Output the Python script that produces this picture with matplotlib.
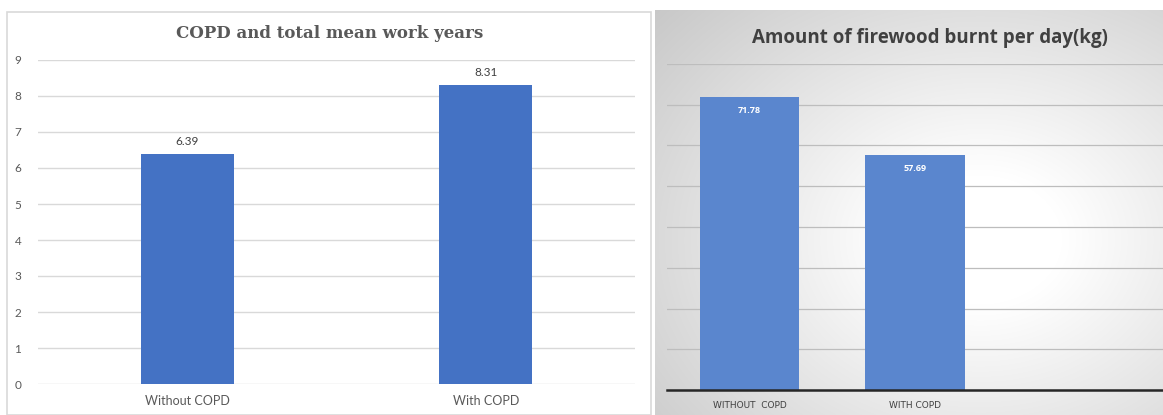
import matplotlib
matplotlib.use('Agg')
import matplotlib.pyplot as plt
import numpy as np
from matplotlib.patches import Rectangle

# Dados
cats_left = ['Without COPD', 'With COPD']
work_years = [6.39, 8.31]

cats_right = ['WITHOUT  COPD', 'WITH COPD', '']
firewood_kg = [71.78, 57.69, 0]

W, H = 1163, 415
fig = plt.figure(figsize=(W / 100, H / 100), dpi=100)
fig.patch.set_facecolor('white')

def fx(px):
    return px / W

def fy(py):
    return 1 - py / H

# ---------- painel esquerdo ----------
fig.patches.append(Rectangle((fx(7), 0), fx(651) - fx(7), fy(12), transform=fig.transFigure,
                             facecolor='white', edgecolor='#d9d9d9', linewidth=1.2, zorder=-5))

axl = fig.add_axes([fx(38), fy(384), fx(635) - fx(38), fy(60) - fy(384)])
axl.bar(range(len(cats_left)), work_years, width=0.31, color='#4472C4', zorder=3)
axl.set_xlim(-0.5, 1.5)
axl.set_ylim(0, 9)
axl.set_yticks(range(0, 10))
axl.set_xticks(range(len(cats_left)))
axl.set_xticklabels(cats_left)
axl.yaxis.grid(True, color='#d9d9d9', linewidth=1)
axl.set_axisbelow(True)
for s in axl.spines.values():
    s.set_visible(False)
axl.tick_params(length=0, labelsize=8.5, colors='#595959', pad=12)
axl.tick_params(axis='x', labelsize=9, pad=8)
for lbl in axl.get_xticklabels() + axl.get_yticklabels():
    lbl.set_family('Lato')
axl.patch.set_alpha(0)
for i, v in enumerate(work_years):
    axl.text(i, v + 0.2, f'{v:.2f}', ha='center', va='bottom', fontsize=8.5,
             color='#404040', family='Lato')
fig.text(fx(330), fy(33), 'COPD and total mean work years', ha='center', va='center',
         fontsize=12, fontweight='bold', color='#595959', family='DejaVu Serif')

# ---------- painel direito (fundo em gradiente) ----------
bg = fig.add_axes([fx(655), 0, 1 - fx(655), fy(10)])
bw, bh = W - 655, H - 10
xx, yy = np.meshgrid(np.arange(bw), np.arange(bh))
cx, cy = 980 - 655, 240 - 10
r = np.sqrt(((xx - cx) / 330.0) ** 2 + ((yy - cy) / 260.0) ** 2)
shade = 1.0 - 0.24 * np.clip(r - 0.25, 0, 1.2) / 1.2
img = np.dstack([shade, shade, shade])
bg.imshow(img, aspect='auto', extent=[0, 1, 0, 1], interpolation='bilinear')
bg.set_axis_off()

axr = fig.add_axes([fx(667), fy(390), 1 - fx(667), fy(64) - fy(390)])
axr.bar(range(len(cats_right)), firewood_kg, width=0.6, color='#5A86CE', zorder=3)
axr.set_xlim(-0.5, 2.5)
axr.set_ylim(0, 80)
axr.set_yticks(range(0, 90, 10))
axr.set_yticklabels([])
axr.set_xticks(range(len(cats_right)))
axr.set_xticklabels(cats_right)
axr.yaxis.grid(True, color='#bdbdbd', linewidth=0.9)
axr.set_axisbelow(True)
for s in axr.spines.values():
    s.set_visible(False)
axr.axhline(0, color='#262626', linewidth=1.8, zorder=4, clip_on=False)
axr.tick_params(length=0, labelsize=6.5, colors='#404040', pad=8)
axr.patch.set_alpha(0)
for i, v in enumerate(firewood_kg[:2]):
    axr.text(i, v - 2.2, f'{v:.2f}', ha='center', va='top', fontsize=6.5,
             color='white', fontweight='bold', family='Open Sans')
fig.text(fx(930), fy(38), 'Amount of firewood burnt per day(kg)', ha='center', va='center',
         fontsize=13.5, fontweight='bold', color='#404040', family='Open Sans')

fig.savefig('out.png', dpi=100)
